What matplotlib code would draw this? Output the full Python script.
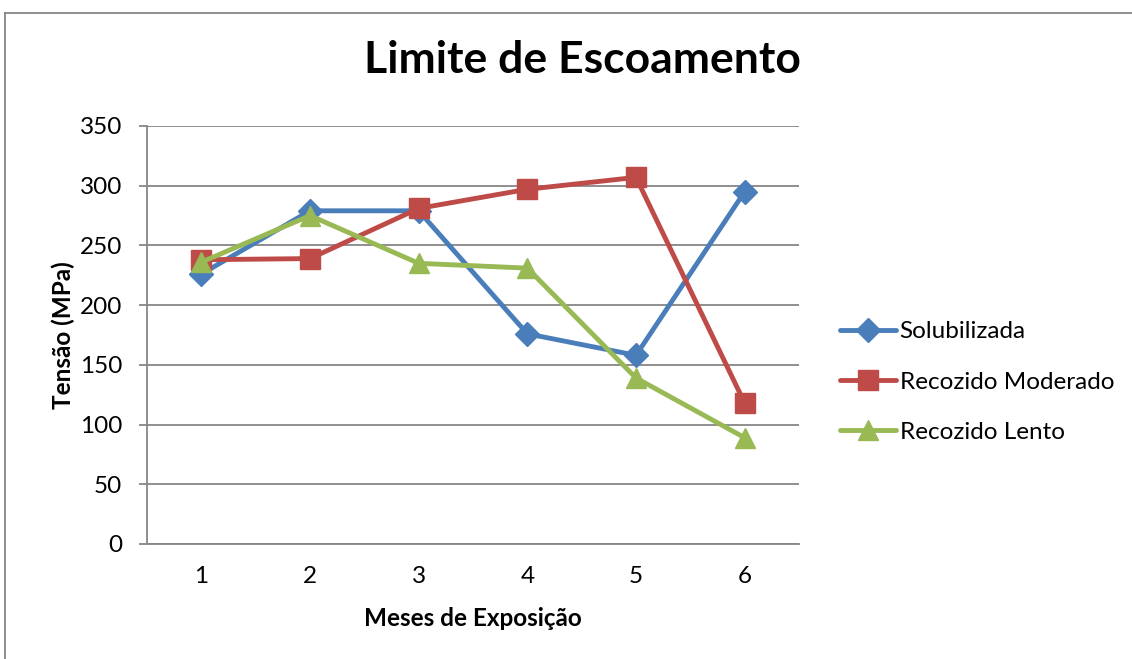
import matplotlib
matplotlib.use("Agg")
import matplotlib.pyplot as plt
from matplotlib.lines import Line2D

plt.rcParams['font.family'] = ['Lato', 'DejaVu Sans']

meses = [1, 2, 3, 4, 5, 6]
solubilizada = [226, 279, 279, 176, 158, 295]
recozido_moderado = [238, 239, 281, 297, 307, 118]
recozido_lento = [236, 275, 235, 231, 139, 89]

series = [
    ("Solubilizada", solubilizada, "#4A7EBB", "D", 12),
    ("Recozido Moderado", recozido_moderado, "#BE4B48", "s", 14),
    ("Recozido Lento", recozido_lento, "#98B954", "^", 15),
]

fig = plt.figure(figsize=(11.32, 6.59), dpi=100)
ax = fig.add_axes([147 / 1132, 1 - 544 / 659, (799 - 147) / 1132, (544 - 126) / 659])

for nome, vals, cor, marc, ms in series:
    ax.plot(meses, vals, color=cor, lw=3.5, marker=marc, markersize=ms,
            markeredgecolor=cor, markerfacecolor=cor, label=nome,
            solid_joinstyle='round', solid_capstyle='round')

grid_color = "#868686"
ax.set_xlim(0.5, 6.5)
ax.set_ylim(0, 350)
ax.set_yticks(range(0, 351, 50))
ax.set_xticks(meses)
ax.yaxis.grid(True, color=grid_color, lw=1.3)
ax.set_axisbelow(True)
for s in ("top", "right"):
    ax.spines[s].set_visible(False)
for s in ("left", "bottom"):
    ax.spines[s].set_color(grid_color)
    ax.spines[s].set_linewidth(1.3)
ax.tick_params(axis='y', length=6, width=1.3, color=grid_color, labelsize=17.5, pad=12)
ax.tick_params(axis='x', length=0, labelsize=17.5, pad=16)

ax.set_xlabel("Meses de Exposição", fontsize=17.5, fontweight='bold', labelpad=14)
ax.set_ylabel("Tensão (MPa)", fontsize=17.5, fontweight='bold', labelpad=3)

fig.text(582 / 1132, 1 - 60 / 659, "Limite de Escoamento", ha='center', va='center',
         fontsize=32, fontweight='bold')

leg = ax.legend(loc='center left', bbox_to_anchor=(828 / 1132, 1 - 382 / 659),
                bbox_transform=fig.transFigure, frameon=False, fontsize=17.5,
                handlelength=2.3, handletextpad=0.15, labelspacing=1.2, borderpad=0)

# outer chart frame (top and left edges)
fig.add_artist(Line2D([5 / 1132, 5 / 1132], [0, 1 - 13 / 659], transform=fig.transFigure,
                      color=grid_color, lw=1.3))
fig.add_artist(Line2D([5 / 1132, 1], [1 - 13 / 659, 1 - 13 / 659], transform=fig.transFigure,
                      color=grid_color, lw=1.3))

fig.savefig("out.png", dpi=100)
